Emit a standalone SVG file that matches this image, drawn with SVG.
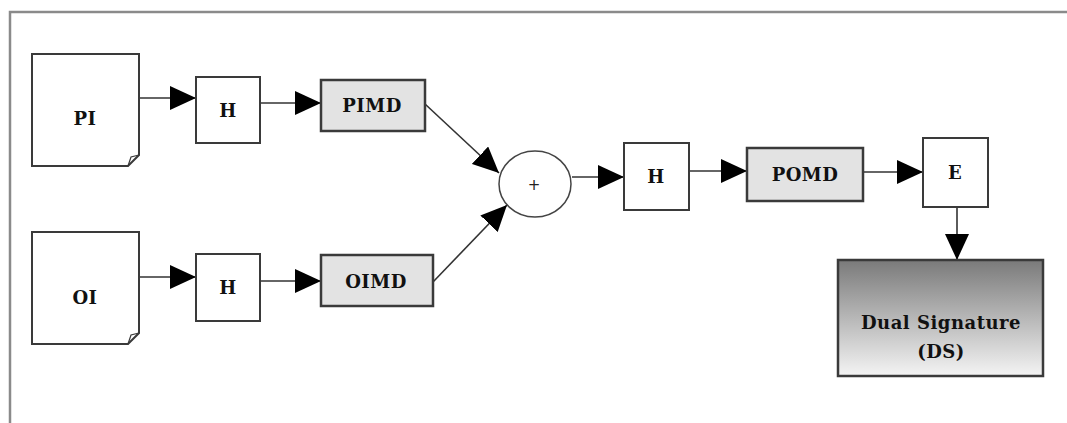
<svg xmlns="http://www.w3.org/2000/svg" width="1067" height="423" viewBox="0 0 1067 423">
<style>
.box{fill:#ffffff;stroke:#3a3a3a;stroke-width:2}
.md{fill:#e3e3e3;stroke:#3a3a3a;stroke-width:2.5}
.lbl{font-family:"DejaVu Serif","Liberation Serif",serif;font-weight:bold;font-size:18px;fill:#111;text-anchor:middle;letter-spacing:0.5px}
.c{stroke:#333;stroke-width:1.6;fill:none}
</style>
<defs>
<marker id="ah" markerUnits="userSpaceOnUse" markerWidth="26" markerHeight="24" viewBox="0 0 26 24" refX="26" refY="12" orient="auto">
<path d="M0,0 L26,12 L0,24 Z" fill="#000"/>
</marker>
<linearGradient id="g" x1="0" y1="0" x2="0" y2="1">
<stop offset="0" stop-color="#7a7a7a"/>
<stop offset="1" stop-color="#f4f4f4"/>
</linearGradient>
</defs>
<rect width="1067" height="423" fill="#ffffff"/>
<path d="M10,423 V12 H1067" fill="none" stroke="#8a8a8a" stroke-width="2.5"/>
<g id="connectors">
<line class="c" x1="139" y1="98" x2="196" y2="98" marker-end="url(#ah)"/>
<line class="c" x1="260" y1="103" x2="321" y2="103" marker-end="url(#ah)"/>
<line class="c" x1="139" y1="277" x2="196" y2="277" marker-end="url(#ah)"/>
<line class="c" x1="260" y1="281" x2="321" y2="281" marker-end="url(#ah)"/>
<line class="c" x1="425" y1="104" x2="499" y2="173" marker-end="url(#ah)"/>
<line class="c" x1="433" y1="282" x2="507" y2="205" marker-end="url(#ah)"/>
<line class="c" x1="572" y1="177" x2="624" y2="177" marker-end="url(#ah)"/>
<line class="c" x1="689" y1="171" x2="747" y2="171" marker-end="url(#ah)"/>
<line class="c" x1="864" y1="172" x2="923" y2="172" marker-end="url(#ah)"/>
<line class="c" x1="957" y1="207" x2="957" y2="260" marker-end="url(#ah)"/>
</g>
<g id="PI">
<path class="box" d="M32,54 H139 V155 L128,166 H32 Z"/>
<path d="M128,166 L131,157 L139,155" fill="none" stroke="#3a3a3a" stroke-width="1.2"/>
<text class="lbl" x="85" y="125">PI</text>
</g>
<g id="OI">
<path class="box" d="M32,232 H139 V333 L128,344 H32 Z"/>
<path d="M128,344 L131,335 L139,333" fill="none" stroke="#3a3a3a" stroke-width="1.2"/>
<text class="lbl" x="85" y="304">OI</text>
</g>
<g id="H1">
<rect class="box" x="196" y="77" width="64" height="66"/>
<text class="lbl" x="228" y="117">H</text>
</g>
<g id="H2">
<rect class="box" x="196" y="254" width="64" height="67"/>
<text class="lbl" x="228" y="294">H</text>
</g>
<g id="PIMD">
<rect class="md" x="321" y="80" width="104" height="51"/>
<text class="lbl" x="372" y="112">PIMD</text>
</g>
<g id="OIMD">
<rect class="md" x="321" y="255" width="112" height="51"/>
<text class="lbl" x="376" y="288">OIMD</text>
</g>
<g id="plus">
<ellipse cx="535" cy="184" rx="36" ry="33" fill="#fff" stroke="#444" stroke-width="1.5"/>
<text x="534" y="190" font-family="DejaVu Sans, sans-serif" font-size="15" text-anchor="middle" fill="#222">+</text>
</g>
<g id="H3">
<rect class="box" x="624" y="143" width="65" height="67"/>
<text class="lbl" x="656" y="183">H</text>
</g>
<g id="POMD">
<rect class="md" x="747" y="148" width="116" height="53"/>
<text class="lbl" x="805" y="181">POMD</text>
</g>
<g id="E">
<rect class="box" x="923" y="138" width="65" height="69"/>
<text class="lbl" x="955" y="179">E</text>
</g>
<g id="DS">
<rect x="838" y="260" width="205" height="116" fill="url(#g)" stroke="#3a3a3a" stroke-width="2.5"/>
<text class="lbl" x="941" y="329">Dual Signature</text>
<text class="lbl" x="941" y="358">(DS)</text>
</g>
</svg>
